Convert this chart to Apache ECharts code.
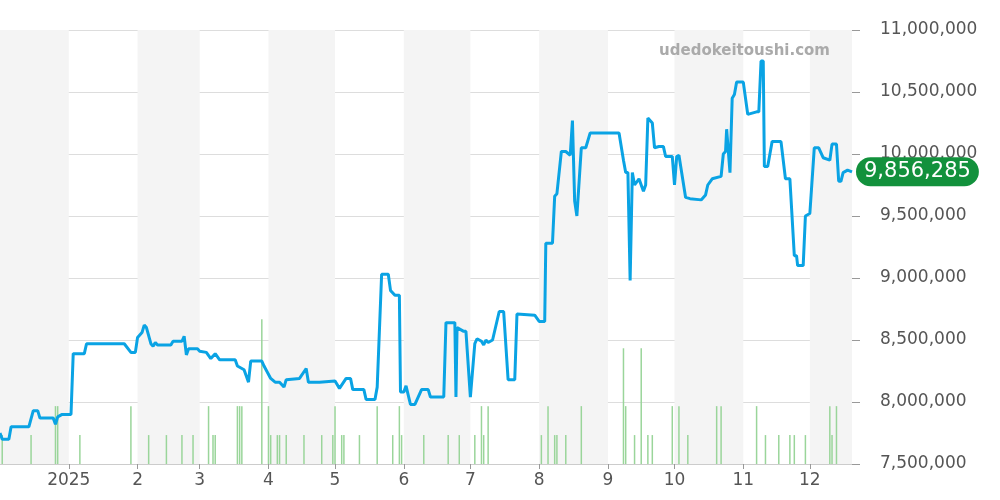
<!DOCTYPE html>
<html>
<head>
<meta charset="utf-8">
<script src="https://cdn.jsdelivr.net/npm/echarts@6/dist/echarts.min.js"></script>
<style>
  html, body { margin: 0; padding: 0; background: #fff; }
  #main { width: 1000px; height: 500px; }
</style>
</head>
<body>
<div id="main"></div>
<script>
// days counted from 2024-12-01
const priceDays = [0,1,4,5,13,15,17,18,24,25,26,28,32,33,38,39,56,59,61,62,64,65,66,68,69,70,71,77,78,82,83,84,85,89,90,93,95,97,99,106,107,110,112,113,118,119,122,124,126,128,129,135,138,139,144,151,153,156,158,159,164,165,169,170,172,175,176,178,180,180.5,182,183,185,187,190,193,194,200,201,205,205.5,206,209,210,212,214,215,217,218,219,220,222,225,227,229,232,233,241,243,245.5,246,249,250,251,253,255,257,258,259,260,262,264,266,279,281,282,283,284,285,286,288,290,291,292,294,295,297,299,300,303,304,305,306,309,311,316,318,319,321,325,326,327,327.5,329,330,331,332,335,337,341,342,343,344,344.5,346,348,352,354,356,358,359,359.5,362,363,365,367,369,371,374,375,377,378,379,380,382,384];
const prices = [7750000,7700000,7700000,7800000,7800000,7930000,7930000,7870000,7870000,7820000,7880000,7900000,7900000,8390000,8390000,8470000,8470000,8400000,8400000,8520000,8560000,8620000,8600000,8470000,8450000,8480000,8460000,8460000,8490000,8490000,8530000,8380000,8430000,8430000,8410000,8400000,8350000,8390000,8340000,8340000,8290000,8260000,8160000,8330000,8330000,8290000,8190000,8160000,8160000,8120000,8180000,8190000,8270000,8160000,8160000,8170000,8110000,8190000,8190000,8100000,8100000,8020000,8020000,8120000,9030000,9030000,8900000,8860000,8860000,8080000,8080000,8130000,7980000,7980000,8100000,8100000,8040000,8040000,8640000,8640000,8040000,8600000,8570000,8570000,8040000,8470000,8510000,8490000,8460000,8500000,8480000,8500000,8730000,8730000,8180000,8180000,8710000,8700000,8650000,8650000,9280000,9280000,9660000,9680000,10020000,10020000,9990000,10270000,9620000,9500000,10050000,10050000,10170000,10170000,9950000,9850000,9850000,8980000,9850000,9750000,9800000,9700000,9750000,10290000,10250000,10050000,10060000,10060000,9980000,9980000,9750000,9980000,9990000,9650000,9640000,9630000,9670000,9750000,9800000,9820000,10000000,10020000,10200000,9850000,10450000,10480000,10580000,10580000,10320000,10340000,10340000,10750000,10750000,9900000,9900000,10100000,10100000,9800000,9800000,9180000,9180000,9100000,9100000,9500000,9520000,10050000,10050000,9970000,9950000,10080000,10080000,9780000,9780000,9850000,9870000,9856285];
const volDays = [1,14,25,26,36,59,67,75,82,87,94,96,97,107,108,109,118,121,122,125,126,129,137,145,150,151,154,155,162,170,177,180,181,191,202,207,214,217,218,220,244,247,250,251,255,262,281,282,286,289,292,294,303,306,310,323,325,341,345,351,356,358,363,374,375,377];
const volumes = [1,1,2,2,1,2,1,1,1,1,2,1,1,2,2,2,5,2,1,1,1,1,1,1,1,2,1,1,1,2,1,2,1,1,1,1,1,2,1,2,1,2,1,1,1,2,4,2,1,4,1,1,2,2,1,2,2,2,1,1,1,1,1,2,1,2];
const monthStarts = ['2024-12','2025-01','2025-02','2025-03','2025-04','2025-05','2025-06','2025-07','2025-08','2025-09','2025-10','2025-11','2025-12','2026-01'];

const start = new Date(2024, 11, 1).getTime();
const dayMs = 86400000;
const toTime = d => start + d * dayMs;
const monthTimes = monthStarts.map(s => { const [y, m] = s.split('-').map(Number); return new Date(y, m - 1, 1).getTime(); });
const xMax = toTime(384);

// alternate shaded month bands
const bands = [];
for (let i = 0; i < monthTimes.length - 1; i += 2) {
  bands.push([{ xAxis: monthTimes[i] }, { xAxis: Math.min(monthTimes[i + 1], xMax) }]);
}

const chart = echarts.init(document.getElementById('main'));
chart.setOption({
  animation: false,
  grid: { left: 0, right: 148, top: 30, bottom: 36 },
  graphic: [{
    type: 'text', right: 170, top: 44, z: 100,
    style: { text: 'udedokeitoushi.com', fill: '#aaa', font: 'bold 15px "DejaVu Sans"' }
  }],
  xAxis: {
    type: 'value', min: start, max: xMax,
    axisLine: { lineStyle: { color: '#ccc' } },
    axisTick: { show: true, customValues: monthTimes.slice(1, 13), length: 5, lineStyle: { color: '#999' } },
    axisLabel: {
      customValues: monthTimes.slice(1, 13), color: '#555', fontSize: 17, fontFamily: 'DejaVu Sans',
      formatter: v => { const d = new Date(v); return d.getMonth() === 0 ? String(d.getFullYear()) : String(d.getMonth() + 1); }
    },
    splitLine: { show: false }
  },
  yAxis: [{
    type: 'value', position: 'right', min: 7500000, max: 11000000, interval: 500000,
    axisLine: { show: false },
    axisTick: { show: true, length: 8, lineStyle: { color: '#999' } },
    axisLabel: { color: '#555', fontSize: 17, fontFamily: 'DejaVu Sans', margin: 28,
      formatter: v => v.toLocaleString('en-US') },
    splitLine: { lineStyle: { color: '#ddd' } }
  }, {
    type: 'value', min: 0, max: 15, show: false
  }],
  series: [{
    type: 'bar', yAxisIndex: 1, barWidth: 1.5,
    itemStyle: { color: '#9ad59a' },
    data: volDays.map((d, i) => [toTime(d), volumes[i]]),
    markArea: { silent: true, itemStyle: { color: '#f4f4f4' }, data: bands }
  }, {
    type: 'line', showSymbol: false, z: 5,
    lineStyle: { color: '#0aa3e4', width: 3 },
    itemStyle: { color: '#0aa3e4' },
    data: priceDays.map((d, i) => [toTime(d), prices[i]]),
    endLabel: {
      show: true, formatter: p => p.value[1].toLocaleString('en-US'),
      color: '#fff', backgroundColor: '#12913c', borderRadius: 16,
      padding: [5, 8, 3, 8], fontSize: 21, fontFamily: 'DejaVu Sans', offset: [-4, 0]
    }
  }]
});
</script>
</body>
</html>
